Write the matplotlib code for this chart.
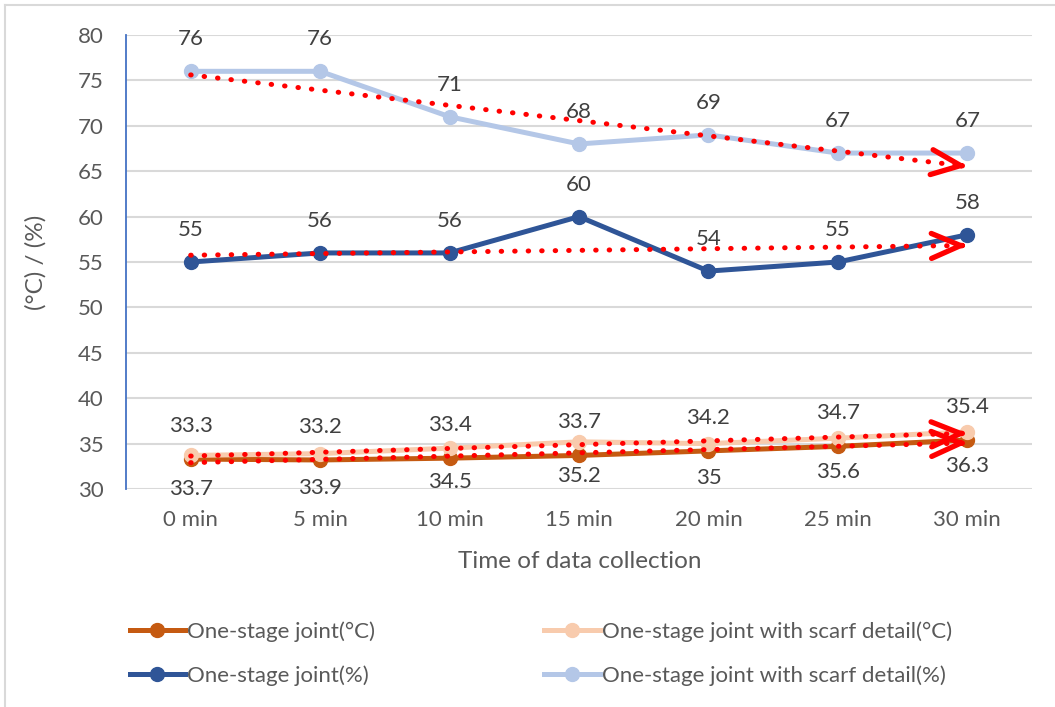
import numpy as np
import matplotlib
matplotlib.use("Agg")
import matplotlib.pyplot as plt
from matplotlib.lines import Line2D

plt.rcParams['font.family'] = ['Lato', 'DejaVu Sans']

times = ["0 min", "5 min", "10 min", "15 min", "20 min", "25 min", "30 min"]
joint_temp = [33.3, 33.2, 33.4, 33.7, 34.2, 34.7, 35.4]
scarf_temp = [33.7, 33.9, 34.5, 35.2, 35.0, 35.6, 36.3]
joint_hum = [55, 56, 56, 60, 54, 55, 58]
scarf_hum = [76, 76, 71, 68, 69, 67, 67]

names = ["One-stage joint(°C)", "One-stage joint with scarf detail(°C)",
         "One-stage joint(%)", "One-stage joint with scarf detail(%)"]
colors = ["#C55A11", "#F8CBAD", "#2F5597", "#B4C7E7"]

fig = plt.figure(figsize=(10.55, 7.07), dpi=100)
ax = fig.add_axes([0.1194, 0.3083, 0.8588, 0.6422])

x = np.arange(len(times))
series = [joint_temp, scarf_temp, joint_hum, scarf_hum]
# label offsets in px: above for most, below for the scarf temperature series
offsets = [33, -34, 32, 32]

handles = []
for vals, name, col, off in zip(series, names, colors, offsets):
    ax.plot(x, vals, color=col, lw=3.6, marker='o', ms=10, zorder=3,
            solid_capstyle='round')
    handles.append(Line2D([], [], color=col, lw=3.6, marker='o', ms=10))
    for xi, v in zip(x, vals):
        ax.annotate(f"{v:g}", (xi, v), textcoords='offset pixels',
                    xytext=(0, off), ha='center', va='center',
                    fontsize=16, color='#404040', zorder=5)

# linear trend lines with arrow heads
for vals in series:
    k, b = np.polyfit(x, vals, 1)
    xs = np.array([x[0], x[-1]])
    ax.plot(xs, k * xs + b, color='red', lw=3.6, linestyle=(0, (0.1, 2.6)),
            dash_capstyle='round', zorder=4)
    x0 = x[-1] - 0.05
    ax.annotate('', xy=(x[-1], k * x[-1] + b), xytext=(x0, k * x0 + b),
                arrowprops=dict(arrowstyle='->,head_length=1.05,head_width=0.45',
                                color='red', lw=3.8, mutation_scale=20,
                                shrinkA=0, shrinkB=0), zorder=4)

ax.set_xlim(-0.5, 6.5)
ax.set_ylim(30, 80)
ax.set_yticks(range(30, 81, 5))
ax.set_xticks(x)
ax.set_xticklabels(times)
ax.tick_params(axis='both', length=0, labelsize=16, labelcolor='#595959')
ax.tick_params(axis='y', pad=16)
ax.tick_params(axis='x', pad=15)
ax.grid(axis='y', color='#D9D9D9', lw=1.5, zorder=0)
ax.set_axisbelow(True)
for s in ['top', 'right', 'bottom']:
    ax.spines[s].set_visible(False)
ax.spines['left'].set_color('#4472C4')
ax.spines['left'].set_linewidth(1.3)

ax.set_xlabel("Time of data collection", fontsize=17.5, color='#595959')
ax.set_ylabel("(°C) / (%)", fontsize=17.5, color='#595959')
ax.xaxis.set_label_coords(0.501, -0.137)
ax.yaxis.set_label_coords(-0.0872, 0.5)

order = [0, 2, 1, 3]
fig.legend([handles[i] for i in order], [names[i] for i in order],
           ncol=2, loc='center left', bbox_to_anchor=(0.104, 0.0757),
           frameon=False, fontsize=16, labelcolor='#595959',
           handlelength=2.5, handletextpad=0.1, columnspacing=7.6,
           labelspacing=1.05)

# chart border (left and top edges visible)
fig.add_artist(Line2D([0.005, 0.005], [0, 0.993], color='#D9D9D9', lw=1.5))
fig.add_artist(Line2D([0.005, 1.0], [0.993, 0.993], color='#D9D9D9', lw=1.5))

fig.savefig("out.png", dpi=100)
